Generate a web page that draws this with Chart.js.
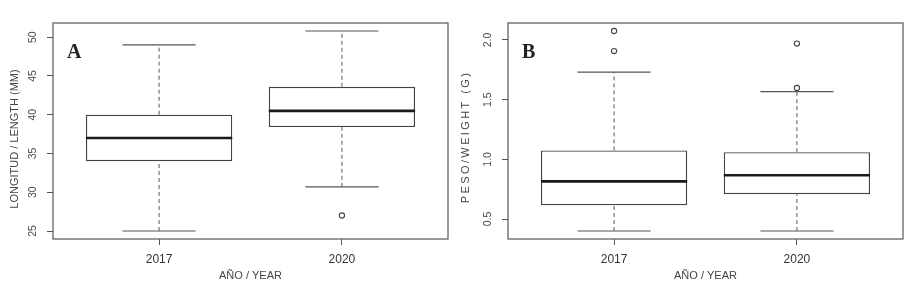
<!DOCTYPE html>
<html>
<head>
<meta charset="utf-8">
<script src="https://cdn.jsdelivr.net/npm/chart.js@4.4.0/dist/chart.umd.min.js"></script>
<style>
  html, body { margin: 0; padding: 0; background: #fff; }
  #wrap { display: flex; width: 919px; height: 284px; }
  canvas { display: block; }
</style>
</head>
<body>
<div id="wrap">
  <canvas id="chartA" width="455" height="284"></canvas>
  <canvas id="chartB" width="464" height="284"></canvas>
</div>
<script>
const years = ["2017", "2020"];
const yearPos = [1, 2];

// Panel A - length (mm)
const lenLow = [25, 30.7];
const lenQ1 = [34, 38.4];
const lenMedian = [37, 40.5];
const lenQ3 = [40, 43.6];
const lenHigh = [49, 50.8];
const lenOutliers = [[], [27]];
const lenTicks = [25, 30, 35, 40, 45, 50];
const lenRange = [23.97, 51.83];

// Panel B - weight (g)
const wLow = [0.4, 0.4];
const wQ1 = [0.615, 0.708];
const wMedian = [0.815, 0.867];
const wQ3 = [1.075, 1.06];
const wHigh = [1.73, 1.567];
const wOutliers = [[1.907, 2.075], [1.598, 1.97]];
const wTicks = [0.5, 1.0, 1.5, 2.0];
const wRange = [0.333, 2.142];

const xRange = [0.42, 2.58];
const BOX_W = 0.8; // box width in category units (R default)
const FONT = '"Liberation Sans", Arial, sans-serif';

// build the box-plot pieces from the summary arrays
function boxDatasets(low, q1, med, q3, high, outliers) {
  const whiskers = [], caps = [], medians = [], points = [];
  yearPos.forEach((x, i) => {
    whiskers.push({x, y: low[i]}, {x, y: q1[i]}, {x, y: null},
                  {x, y: q3[i]}, {x, y: high[i]}, {x, y: null});
    caps.push({x: x - BOX_W / 4, y: low[i]}, {x: x + BOX_W / 4, y: low[i]}, {x, y: null},
              {x: x - BOX_W / 4, y: high[i]}, {x: x + BOX_W / 4, y: high[i]}, {x, y: null});
    medians.push({x: x - BOX_W / 2, y: med[i]}, {x: x + BOX_W / 2, y: med[i]}, {x, y: null});
    outliers[i].forEach(v => points.push({x, y: v}));
  });
  const line = {type: 'line', pointRadius: 0, fill: false, spanGaps: false};
  return [
    {type: 'bar', data: yearPos.map((x, i) => ({x, y: [q1[i], q3[i]]})),
     backgroundColor: '#fff', borderColor: '#444', borderWidth: 1.4, borderSkipped: false,
     barPercentage: BOX_W, categoryPercentage: 1, order: 5},
    {...line, data: whiskers, borderColor: '#555', borderWidth: 1, borderDash: [4, 3], order: 4},
    {...line, data: caps, borderColor: '#555', borderWidth: 1.2, order: 3},
    {...line, data: medians, borderColor: '#1a1a1a', borderWidth: 2.7, borderCapStyle: 'butt', order: 1},
    {type: 'scatter', data: points, pointRadius: 2.6, pointBackgroundColor: '#fff',
     pointBorderColor: '#444', pointBorderWidth: 1.1, order: 0}
  ];
}

// frame, panel letter and (letter-spaced) y title
const panelDecor = {
  id: 'panelDecor',
  afterDraw(chart, args, opts) {
    const {ctx, chartArea: a} = chart;
    ctx.save();
    ctx.strokeStyle = '#555';
    ctx.lineWidth = 1.2;
    ctx.strokeRect(a.left, a.top, a.right - a.left, a.bottom - a.top);

    ctx.fillStyle = '#222';
    ctx.font = 'bold 20px "Liberation Serif", "DejaVu Serif", serif';
    ctx.textBaseline = 'alphabetic';
    ctx.fillText(opts.letter, a.left + 14, a.top + 35);

    ctx.translate(opts.titleX, opts.titleY);
    ctx.rotate(-Math.PI / 2);
    ctx.letterSpacing = opts.spacing + 'px';
    ctx.font = '11px ' + FONT;
    ctx.fillStyle = '#444';
    ctx.textAlign = 'center';
    ctx.textBaseline = 'middle';
    ctx.fillText(opts.title, 0, 0);
    ctx.restore();
  }
};

function makeChart(id, datasets, yRange, yTicks, fmt, yPad, rightPad, decor) {
  return new Chart(document.getElementById(id), {
    type: 'bar',
    data: {datasets},
    plugins: [panelDecor],
    options: {
      responsive: false,
      animation: false,
      layout: {padding: {top: 23, right: rightPad, left: 0, bottom: 0}},
      plugins: {legend: {display: false}, tooltip: {enabled: false}, panelDecor: decor},
      scales: {
        x: {
          type: 'linear', min: xRange[0], max: xRange[1], offset: false,
          afterBuildTicks: s => { s.ticks = yearPos.map(v => ({value: v})); },
          afterFit: s => { s.height = 45; },
          grid: {drawOnChartArea: false, tickLength: 6, color: '#555', offset: false},
          border: {display: false},
          ticks: {callback: (v, i) => years[i], autoSkip: false, maxRotation: 0,
                  font: {size: 12, family: FONT}, color: '#333', padding: 7},
          title: {display: true, text: 'AÑO / YEAR', color: '#444',
                  font: {size: 11, family: FONT}, padding: {top: 0, bottom: 1}}
        },
        y: {
          min: yRange[0], max: yRange[1],
          afterBuildTicks: s => { s.ticks = yTicks.map(v => ({value: v})); },
          afterFit: s => { s.width = 53; },
          grid: {drawOnChartArea: false, tickLength: 6, color: '#555'},
          border: {display: false},
          ticks: {minRotation: 90, maxRotation: 90, crossAlign: 'center', padding: yPad,
                  callback: fmt, font: {size: 10.5, family: FONT}, color: '#4a4a4a'}
        }
      }
    }
  });
}

makeChart('chartA', boxDatasets(lenLow, lenQ1, lenMedian, lenQ3, lenHigh, lenOutliers),
  lenRange, lenTicks, v => String(v), 8, 7,
  {letter: 'A', title: 'LONGITUD / LENGTH (MM)', titleX: 15, titleY: 139, spacing: 0});

makeChart('chartB', boxDatasets(wLow, wQ1, wMedian, wQ3, wHigh, wOutliers),
  wRange, wTicks, v => v.toFixed(1), 7, 16,
  {letter: 'B', title: 'PESO/WEIGHT (G)', titleX: 11, titleY: 137, spacing: 2.4});
</script>
</body>
</html>
